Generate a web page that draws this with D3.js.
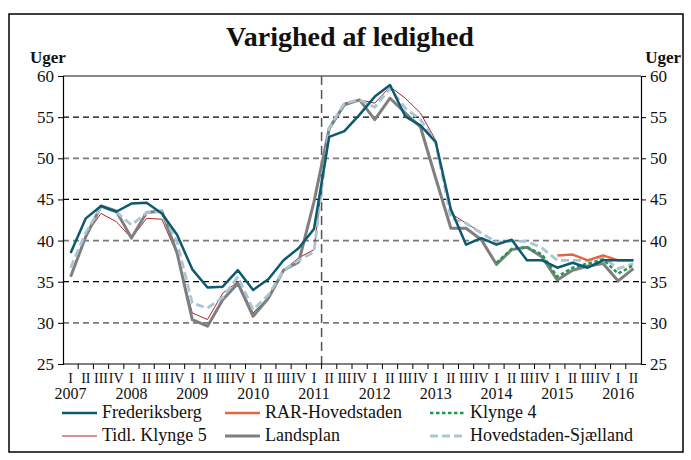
<!DOCTYPE html>
<html>
<head>
<meta charset="utf-8">
<script src="https://cdn.jsdelivr.net/npm/d3@7"></script>
<style>
  body { margin: 0; background: #fff; }
  svg text { font-family: "Liberation Serif", "DejaVu Serif", serif; fill: #111; }
</style>
</head>
<body>
<div class="grafico"></div>
<script>
// quarters 2007 Q1 .. 2016 Q2
var kvartaler = ["I","II","III","IV","I","II","III","IV","I","II","III","IV","I","II","III","IV",
                 "I","II","III","IV","I","II","III","IV","I","II","III","IV","I","II","III","IV",
                 "I","II","III","IV","I","II"];
var aar = ["2007","2008","2009","2010","2011","2012","2013","2014","2015","2016"];
var yTicks = [25, 30, 35, 40, 45, 50, 55, 60];

var frederiksberg = [38.5, 42.7, 44.2, 43.5, 44.5, 44.6, 43.3, 40.7, 36.5, 34.3, 34.4, 36.4, 34.0, 35.3, 37.6, 39.1,
                     41.4, 52.6, 53.3, 55.3, 57.5, 58.9, 55.1, 54.0, 52.0, 43.8, 39.5, 40.3, 39.5, 40.1, 37.6, 37.6,
                     36.7, 37.3, 36.7, 37.6, 37.6, 37.6];
var rarHovedstaden = [null, null, null, null, null, null, null, null, null, null, null, null, null, null, null, null,
                      null, null, null, null, null, null, null, null, null, null, null, null, null, null, null, null,
                      38.2, 38.3, 37.6, 38.2, 37.6, 37.6];
var klynge4 = [null, null, null, null, null, null, null, null, null, null, null, null, null, null, null, null,
               null, null, null, null, null, null, null, null, null, null, null, null, 37.3, 39.0, 39.2, 38.3,
               35.6, 36.7, 37.2, 37.7, 36.0, 37.0];
var tidlKlynge5 = [35.7, 40.7, 43.3, 42.3, 40.3, 42.7, 42.6, 38.3, 31.2, 30.4, 33.6, 35.0, 31.2, 33.1, 36.4, 37.9,
                   38.9, 53.8, 56.7, 57.1, 56.7, 58.7, 57.3, 55.5, 52.2, 43.3, 42.1, 41.0, null, null, null, null,
                   null, null, null, null, null, null];
var landsplan = [35.6, 40.5, 44.2, 43.6, 40.3, 43.4, 43.6, 38.5, 30.4, 29.6, 32.8, 34.8, 30.8, 33.0, 36.4, 37.4,
                 44.7, 53.6, 56.5, 57.1, 54.7, 57.3, 55.5, 53.8, 47.6, 41.5, 41.5, 40.1, 37.1, 38.9, 39.2, 38.0,
                 35.2, 36.4, 36.9, 37.2, 35.1, 36.6];
var hovedstadenSjaelland = [36.7, 41.0, 44.1, 43.5, 41.9, 43.4, 43.5, 39.8, 32.4, 31.8, 33.1, 35.6, 31.6, 33.4, 36.4, 37.6,
                            38.6, 53.7, 56.7, 57.1, 56.2, 58.5, 56.1, 54.7, 52.0, 42.7, 42.1, 40.9, 39.8, 39.9, 39.9, 39.1,
                            37.6, 37.6, 37.6, 38.0, 36.6, 37.2];

var serier = [
  {navn: "Tidl. Klynge 5", data: tidlKlynge5, farve: "#a3282e", bredde: 1, dash: null},
  {navn: "Landsplan", data: landsplan, farve: "#7f7f7f", bredde: 3, dash: null},
  {navn: "Hovedstaden-Sjælland", data: hovedstadenSjaelland, farve: "#a9c6d4", bredde: 2.8, dash: "8,4"},
  {navn: "Klynge 4", data: klynge4, farve: "#1f9a4c", bredde: 2.5, dash: "3.5,2.5"},
  {navn: "RAR-Hovedstaden", data: rarHovedstaden, farve: "#e8643f", bredde: 2.5, dash: null},
  {navn: "Frederiksberg", data: frederiksberg, farve: "#0d5a70", bredde: 2.5, dash: null}
];
var legendeOrden = ["Frederiksberg", "RAR-Hovedstaden", "Klynge 4", "Tidl. Klynge 5", "Landsplan", "Hovedstaden-Sjælland"];

var width = 691, height = 460;
var venstre = 63, hoejre = 641, plotTop = 76, plotBund = 364;
var skrift = "'Liberation Serif', 'DejaVu Serif', serif";

var svg = d3.select(".grafico").append("svg")
  .attr("width", width)
  .attr("height", height)
  .style("font-family", skrift);

// frame
svg.append("rect")
  .attr("x", 9).attr("y", 14)
  .attr("width", 674).attr("height", 438)
  .attr("fill", "none").attr("stroke", "#000").attr("stroke-width", 1.5);

var x = d3.scaleBand()
  .domain(d3.range(kvartaler.length))
  .range([venstre, hoejre]);

var y = d3.scaleLinear()
  .domain([25, 60])
  .range([plotBund, plotTop]);

// title
svg.append("text")
  .attr("x", 350).attr("y", 46)
  .attr("text-anchor", "middle")
  .style("font-size", "28px").style("font-weight", "bold")
  .text("Varighed af ledighed");

svg.append("text").attr("x", 30).attr("y", 63)
  .style("font-size", "17px").style("font-weight", "bold").text("Uger");
svg.append("text").attr("x", 681).attr("y", 63).attr("text-anchor", "end")
  .style("font-size", "17px").style("font-weight", "bold").text("Uger");

// gridlines, alternating black / gray dashes
svg.append("g").selectAll("line")
  .data(yTicks.filter(function(d){ return d > 25 && d < 60; }))
  .enter().append("line")
    .attr("x1", venstre).attr("x2", hoejre)
    .attr("y1", function(d){ return y(d); })
    .attr("y2", function(d){ return y(d); })
    .attr("stroke", function(d){ return d % 10 == 0 ? "#7a7a7a" : "#000"; })
    .attr("stroke-width", function(d){ return d % 10 == 0 ? 1.8 : 1.2; })
    .attr("stroke-dasharray", "6,4");

svg.append("line")
  .attr("x1", venstre).attr("x2", hoejre)
  .attr("y1", y(60)).attr("y2", y(60))
  .attr("stroke", "#888").attr("stroke-width", 2);

// vertical marker between 2011 Q1 and Q2
svg.append("line")
  .attr("x1", x(17)).attr("x2", x(17))
  .attr("y1", plotTop).attr("y2", plotBund)
  .attr("stroke", "#555").attr("stroke-width", 1.5)
  .attr("stroke-dasharray", "9,5");

// y axes
var yLeft = d3.axisLeft(y).tickValues(yTicks).tickSize(5).tickPadding(4);
var yRight = d3.axisRight(y).tickValues(yTicks).tickSize(5).tickPadding(4);

svg.append("g").attr("class", "akse")
  .attr("transform", "translate(" + venstre + ",0)")
  .call(yLeft);
svg.append("g").attr("class", "akse")
  .attr("transform", "translate(" + hoejre + ",0)")
  .call(yRight);

// x axis with ticks at quarter boundaries
var xAxis = svg.append("g").attr("class", "akse");
xAxis.append("line")
  .attr("x1", venstre).attr("x2", hoejre)
  .attr("y1", plotBund).attr("y2", plotBund)
  .attr("stroke", "#000").attr("stroke-width", 1.2);
xAxis.selectAll("line.tick")
  .data(d3.range(1, kvartaler.length))
  .enter().append("line")
    .attr("class", "tick")
    .attr("x1", function(d){ return x(d); })
    .attr("x2", function(d){ return x(d); })
    .attr("y1", plotBund).attr("y2", plotBund + 5)
    .attr("stroke", "#000");
xAxis.selectAll("text.kv")
  .data(kvartaler)
  .enter().append("text")
    .attr("class", "kv")
    .attr("x", function(d, i){ return x(i) + x.bandwidth() / 2; })
    .attr("y", plotBund + 19)
    .attr("text-anchor", "middle")
    .style("font-size", "14px")
    .text(function(d){ return d; });
xAxis.selectAll("text.aar")
  .data(aar)
  .enter().append("text")
    .attr("class", "aar")
    .attr("x", function(d, i){ return x(i * 4) + x.bandwidth() / 2; })
    .attr("y", plotBund + 35)
    .attr("text-anchor", "middle")
    .style("font-size", "16px")
    .text(function(d){ return d; });

svg.selectAll(".akse path").attr("stroke", "#000").attr("stroke-width", 1.2);
svg.selectAll(".akse").attr("font-family", null);
svg.selectAll(".akse .tick text")
  .style("font-family", skrift)
  .style("font-size", "17px").attr("fill", "#111");

// lines
var linje = d3.line()
  .defined(function(d){ return d != null; })
  .x(function(d, i){ return x(i) + x.bandwidth() / 2; })
  .y(function(d){ return y(d); });

svg.append("g").selectAll("path")
  .data(serier)
  .enter().append("path")
    .attr("d", function(s){ return linje(s.data); })
    .attr("fill", "none")
    .attr("stroke", function(s){ return s.farve; })
    .attr("stroke-width", function(s){ return s.bredde; })
    .attr("stroke-dasharray", function(s){ return s.dash; })
    .attr("stroke-linejoin", "round");

// legend
var kolX = [62, 225, 430];
var raekkeY = [418, 441];
var legende = svg.append("g").selectAll("g")
  .data(legendeOrden)
  .enter().append("g")
    .attr("transform", function(d, i){
      return "translate(" + kolX[i % 3] + "," + raekkeY[Math.floor(i / 3)] + ")";
    });
legende.append("line")
  .attr("x1", 0).attr("x2", 35)
  .attr("y1", -5).attr("y2", -5)
  .each(function(n){
    var s = serier.find(function(d){ return d.navn == n; });
    d3.select(this)
      .attr("stroke", s.farve)
      .attr("stroke-width", s.bredde)
      .attr("stroke-dasharray", s.dash);
  });
legende.append("text")
  .attr("x", 40).attr("y", 0)
  .style("font-family", skrift)
  .style("font-size", "18px")
  .text(function(d){ return d; });
</script>
</body>
</html>
